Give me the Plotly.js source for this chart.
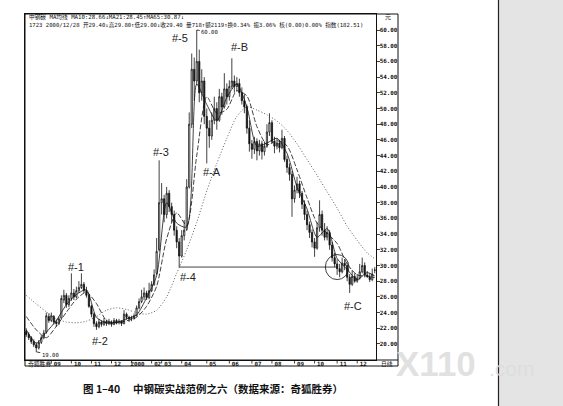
<!DOCTYPE html>
<html><head><meta charset="utf-8">
<script src="https://cdn.plot.ly/plotly-3.0.1.min.js"></script>
<style>html,body{margin:0;padding:0;background:#fff}#c{width:563px;height:406px}</style>
</head><body><div id="c"></div>
<script>
// Daily candles (each ~2.5 trading days), Aug 1999 - 2000/12/28
const openP = [
 21.6,21.2,20.8,20.3,19.9,19.5,20.2,20.8,21.5,23.5,
 23.0,23.5,22.8,22.6,23.3,25.6,26.2,25.0,25.8,26.5,
 26.0,26.8,27.2,27.6,26.8,26.2,24.8,23.8,22.6,22.2,
 22.8,22.5,22.9,22.6,22.8,22.5,23.0,22.7,22.9,22.6,
 23.8,23.4,23.2,23.3,23.6,24.6,25.4,26.0,26.5,25.9,
 26.8,27.6,29.0,32.0,38.0,38.5,36.5,39.2,37.5,36.5,
 34.5,33.0,31.2,33.8,34.6,40.0,48.0,55.0,53.5,56.0,
 52.0,53.5,49.0,47.5,46.5,48.5,50.0,48.5,51.5,50.2,
 52.5,51.5,52.8,53.5,52.8,53.2,52.0,51.0,50.2,47.5,
 45.5,44.8,45.8,44.6,45.5,44.5,45.2,47.0,48.2,45.8,
 45.2,45.6,45.0,46.2,43.5,42.5,41.6,38.5,39.6,40.4,
 39.2,37.8,36.5,35.2,34.2,33.0,32.2,34.8,36.5,34.5,
 33.6,34.2,32.6,31.0,30.2,29.6,29.2,30.3,30.0,28.5,
 27.6,28.6,28.0,28.4,29.2,30.0,28.8,28.6,28.2,29.4];
const highP = [
 22.0,21.5,21.0,20.6,20.2,20.5,21.1,21.8,24.0,23.9,
 24.0,23.7,23.1,23.5,26.2,26.9,26.5,26.2,29.0,27.0,
 27.3,28.0,29.0,27.9,27.3,26.4,25.0,24.0,22.9,23.2,
 23.0,23.3,23.1,23.2,23.0,23.3,23.2,23.2,23.0,24.3,
 24.0,23.6,23.6,23.9,24.9,25.8,26.9,27.2,26.8,27.8,
 28.0,29.5,33.5,43.4,40.5,39.0,40.0,39.6,38.0,37.0,
 35.0,33.5,34.5,35.8,41.0,49.5,57.0,56.5,60.0,57.5,
 55.0,54.0,50.0,48.5,49.5,51.5,50.8,52.5,52.0,54.5,
 53.2,53.6,56.4,54.2,54.0,53.8,52.7,51.8,50.5,48.5,
 46.0,46.4,46.2,46.0,45.9,45.8,48.0,49.4,48.5,46.4,
 46.2,46.0,47.3,46.5,44.0,43.0,42.0,40.2,41.3,40.8,
 39.5,38.3,37.0,35.6,34.6,33.5,35.5,38.3,37.0,35.4,
 35.0,34.5,33.0,31.6,30.8,30.2,31.0,30.8,30.4,28.9,
 29.4,29.0,28.9,30.2,31.0,30.4,29.3,29.0,29.6,29.8];
const lowP = [
 20.9,20.5,20.0,19.6,19.0,19.3,20.0,20.6,21.3,22.7,
 22.8,22.5,22.2,22.4,23.2,25.2,24.6,24.7,25.5,25.6,
 25.8,26.5,27.0,26.5,25.9,24.6,23.4,22.2,21.8,22.0,
 22.2,22.3,22.3,22.4,22.2,22.4,22.5,22.5,22.3,22.5,
 23.1,22.8,22.9,23.1,23.5,24.4,25.2,25.6,25.6,25.7,
 26.6,27.4,28.8,31.8,36.5,35.5,36.0,36.8,35.5,33.8,
 32.2,29.8,31.0,33.2,34.4,39.8,47.5,51.0,53.0,50.8,
 51.0,48.0,43.0,45.0,46.0,48.0,47.3,48.3,49.2,50.0,
 50.5,51.0,52.5,52.0,52.2,51.5,50.5,49.4,46.8,44.5,
 43.6,44.2,43.4,44.0,43.5,44.0,45.0,46.5,45.5,44.3,
 44.8,44.4,44.8,43.2,41.8,40.8,36.2,38.0,39.2,38.6,
 37.2,35.8,34.5,33.5,32.3,31.1,32.0,34.3,33.8,33.2,
 33.2,32.0,30.5,29.8,28.8,28.5,29.0,29.4,28.0,26.5,
 27.4,27.8,27.8,28.2,29.0,28.5,28.4,27.9,28.0,29.0];
const closeP = [
 21.2,20.8,20.3,19.9,19.5,20.2,20.8,21.4,23.6,23.0,
 23.6,22.8,22.6,23.2,25.8,26.2,25.0,25.8,26.5,26.0,
 26.8,27.2,27.6,26.8,26.2,24.8,23.8,22.6,22.2,22.8,
 22.5,22.9,22.6,22.8,22.5,23.0,22.7,22.9,22.6,23.8,
 23.4,23.2,23.3,23.6,24.6,25.4,26.0,26.5,25.9,26.8,
 27.6,28.8,31.8,38.0,38.5,36.5,39.2,37.5,36.5,34.5,
 33.0,31.2,33.8,34.5,40.0,48.0,55.0,53.5,56.0,52.0,
 53.5,49.0,47.5,46.5,48.5,50.0,48.5,51.5,50.2,52.5,
 51.5,52.8,53.5,52.8,53.2,52.0,51.0,50.2,47.5,45.5,
 44.8,45.8,44.6,45.5,44.5,45.2,47.0,48.2,45.8,45.2,
 45.6,45.0,46.2,43.5,42.5,41.6,38.5,39.6,40.4,39.2,
 37.8,36.5,35.2,34.2,33.0,32.2,34.8,36.5,34.5,33.6,
 34.2,32.6,31.0,30.2,29.6,29.2,30.3,30.0,28.5,27.6,
 28.6,28.0,28.4,29.2,30.0,28.8,28.6,28.2,28.9,29.4];

// Moving averages at sample bars
const maIdx = [0,4,8,12,16,20,24,28,32,36,40,44,48,52,56,60,64,68,72,76,80,84,88,92,96,100,104,108,112,116,120,124,128,132,136,139];
const ma10 = [21.8,20.1,21.5,23.0,25.0,26.3,26.9,23.4,22.7,22.75,23.2,23.7,25.9,28.7,38.0,35.4,34.9,53.1,50.5,48.4,51.4,53.1,50.2,45.2,45.6,46.2,44.3,40.0,37.2,33.6,34.7,30.9,29.5,28.2,29.1,28.66];
const ma21 = [23.5,21.8,20.8,22.25,24.05,25.7,26.6,25.15,23.0,22.7,22.95,23.4,24.8,27.35,33.4,36.7,35.1,44.0,51.5,49.4,49.9,52.25,51.6,47.7,45.4,45.9,45.25,42.2,38.6,35.4,34.1,32.8,30.2,28.8,28.65,28.45];
const ma65 = [26.2,25.1,24.1,23.2,22.8,22.7,22.9,23.5,24.3,24.6,24.4,24.0,23.8,24.3,26.0,29.0,32.0,35.5,39.5,43.0,46.2,49.0,50.2,49.8,49.2,48.4,47.2,45.5,43.5,41.5,39.4,37.3,35.0,33.2,31.6,30.87];

// Month ticks
const monthTickIdx = [10,18,26,34,42,50,54,62,72,81,90,98,107,115,124,132];
const monthTickText = ["09","10","11","12","2000","02","03","04","05","06","07","08","09","10","11","12"];
const priceTicks = [20,22,24,26,28,30,32,34,36,38,40,42,44,46,48,50,52,54,56,58,60];

// Pattern marks
const markText = ["#-1","#-2","#-3","#-4","#-5","#-A","#-B","#-C"];
const markIdx = [19.8,29.4,53.8,64.5,61.3,74.1,84.9,130.3];
const markPrice = [29.8,20.4,44.5,28.5,59.0,41.9,57.8,24.8];

const supportBar = 61;   // #-4 low bar
const circleBar = 124;   // retest circle
const highBar = 68, lowBar = 4;

const idx = closeP.map((_, i) => i);
const K = '#111';
const mono = 'DejaVu Sans Mono, Noto Sans CJK SC, monospace';

const traces = [
  {type:'candlestick', x: idx, open: openP, high: highP, low: lowP, close: closeP,
   increasing:{line:{color:K,width:0.8}, fillcolor:'#ffffff'},
   decreasing:{line:{color:K,width:0.8}, fillcolor:K},
   whiskerwidth:0, hoverinfo:'skip', showlegend:false},
  {type:'scatter', mode:'lines', x: maIdx, y: ma10, line:{color:K,width:0.8,shape:'spline',smoothing:0.7}, hoverinfo:'skip'},
  {type:'scatter', mode:'lines', x: maIdx, y: ma21, line:{color:K,width:0.8,dash:'5px,2px',shape:'spline',smoothing:0.7}, hoverinfo:'skip'},
  {type:'scatter', mode:'lines', x: maIdx, y: ma65, line:{color:'#333',width:0.8,dash:'1px,2px',shape:'spline',smoothing:0.7}, hoverinfo:'skip'}
];

const W = 351, H = 346;           // plot area size in px
const px = v => (v - 25) / W;      // page x -> paper
const py = v => (360 - v) / H;     // page y -> paper

const shapes = [
  {type:'rect', xref:'paper', yref:'paper', x0:px(499), x1:px(570), y0:py(410), y1:py(-5), fillcolor:'#e4e4e4', line:{width:0}, layer:'below'},
  {type:'line', xref:'paper', yref:'paper', x0:px(498.5), x1:px(498.5), y0:py(410), y1:py(-5), line:{color:'#222',width:1.2}},
  {type:'rect', xref:'paper', yref:'paper', x0:0, x1:px(398), y0:py(366), y1:1, line:{color:K,width:1}},
  {type:'line', xref:'paper', yref:'paper', x0:0, x1:px(398), y0:0, y1:0, line:{color:K,width:1}},
  {type:'line', xref:'x', yref:'y', x0:supportBar, x1:circleBar, y0:lowP[supportBar], y1:lowP[supportBar], line:{color:K,width:0.8}},
  {type:'circle', xref:'x', yref:'y', x0:circleBar-4.7, x1:circleBar+4.7, y0:lowP[supportBar]-1.6, y1:lowP[supportBar]+1.6, line:{color:K,width:0.8}}
];
monthTickIdx.forEach(t => shapes.push({type:'line', xref:'x', yref:'paper', x0:t, x1:t, y0:0, y1:py(363.5), line:{color:K,width:0.8}}));

const annotations = [
  {xref:'paper', yref:'paper', x:px(27), y:py(17), xanchor:'left', yanchor:'middle', showarrow:false,
   text:'中钢碳 MA均线 MA10:28.66↓MA21:28.45↑MA65:30.87↓', font:{family:mono,size:5.7,color:K}},
  {xref:'paper', yref:'paper', x:px(27), y:py(24.5), xanchor:'left', yanchor:'middle', showarrow:false,
   text:'1723 2000/12/28 开29.40↓高29.80↑低29.00↓收29.40 量718↑额2119↑换0.34% 振3.06% 核(0.00)0.00% 指数(182.51)', font:{family:mono,size:5.6,color:K}},
  {xref:'paper', yref:'paper', x:px(388), y:py(17), xanchor:'center', yanchor:'middle', showarrow:false, text:'元', font:{family:mono,size:6,color:K}},
  {xref:'paper', yref:'paper', x:px(26), y:py(363), xanchor:'left', yanchor:'middle', showarrow:false, text:'奇狐胜券', font:{family:'Noto Sans CJK SC',size:5.8,color:K}},
  {xref:'paper', yref:'paper', x:px(379), y:py(363), xanchor:'left', yanchor:'middle', showarrow:false, text:'日线', font:{family:'Noto Sans CJK SC',size:5.8,color:K}},
  {xref:'paper', yref:'paper', x:px(213), y:py(388), xanchor:'center', yanchor:'middle', showarrow:false,
   text:'图 1–40　 中钢碳实战范例之六（数据来源：奇狐胜券）', font:{family:'Noto Sans CJK SC',size:10.5,color:K,weight:'bold'}},
  {xref:'paper', yref:'paper', x:px(394), y:py(363.5), xanchor:'left', yanchor:'middle', showarrow:false, text:'X110', font:{family:'Liberation Sans',size:35,color:'rgba(220,220,220,0.85)',weight:'bold'}},
  {xref:'paper', yref:'paper', x:px(487), y:py(368), xanchor:'left', yanchor:'middle', showarrow:false, text:'.com', font:{family:'Liberation Sans',size:21,color:'rgba(220,220,220,0.85)'}},
  {x:highBar, y:highP[highBar], xref:'x', yref:'y', text:highP[highBar].toFixed(2), showarrow:true, arrowhead:0, arrowwidth:0.8, arrowcolor:K, ax:13, ay:2, standoff:0, font:{family:mono,size:5.6,color:K}},
  {x:lowBar, y:lowP[lowBar], xref:'x', yref:'y', text:lowP[lowBar].toFixed(2), showarrow:true, arrowhead:0, arrowwidth:0.8, arrowcolor:K, ax:14, ay:3, standoff:0, font:{family:mono,size:5.6,color:K}}
];
markText.forEach((t, i) => annotations.push({x:markIdx[i], y:markPrice[i], xref:'x', yref:'y', text:t, showarrow:false, font:{family:'Liberation Sans',size:11,color:'#222'}}));

const layout = {
  width:563, height:406,
  margin:{l:25, r:187, t:14, b:46, pad:0},
  paper_bgcolor:'#ffffff', plot_bgcolor:'#ffffff',
  showlegend:false, hovermode:false,
  xaxis:{range:[-0.5,139.5], rangeslider:{visible:false}, tickmode:'array', tickvals:monthTickIdx, ticktext:monthTickText,
         ticks:'', ticklabelshift:6, ticklabelstandoff:-2, showgrid:false, zeroline:false, showline:true, mirror:true, linecolor:K, linewidth:1,
         tickfont:{family:mono,size:5.8,color:K,weight:'bold'}, fixedrange:true},
  yaxis:{side:'right', range:[17.96,62.04], tickmode:'array', tickvals:priceTicks, ticktext:priceTicks.map(v=>v.toFixed(2)),
         ticks:'outside', ticklen:2.5, tickwidth:0.8, tickcolor:K, ticklabelstandoff:-1, showgrid:false, zeroline:false, showline:true, mirror:true, linecolor:K, linewidth:1,
         tickfont:{family:mono,size:5.9,color:K,weight:'bold'}, fixedrange:true},
  shapes: shapes,
  annotations: annotations
};
Plotly.newPlot('c', traces, layout, {staticPlot:true, displayModeBar:false});
</script>
</body></html>
